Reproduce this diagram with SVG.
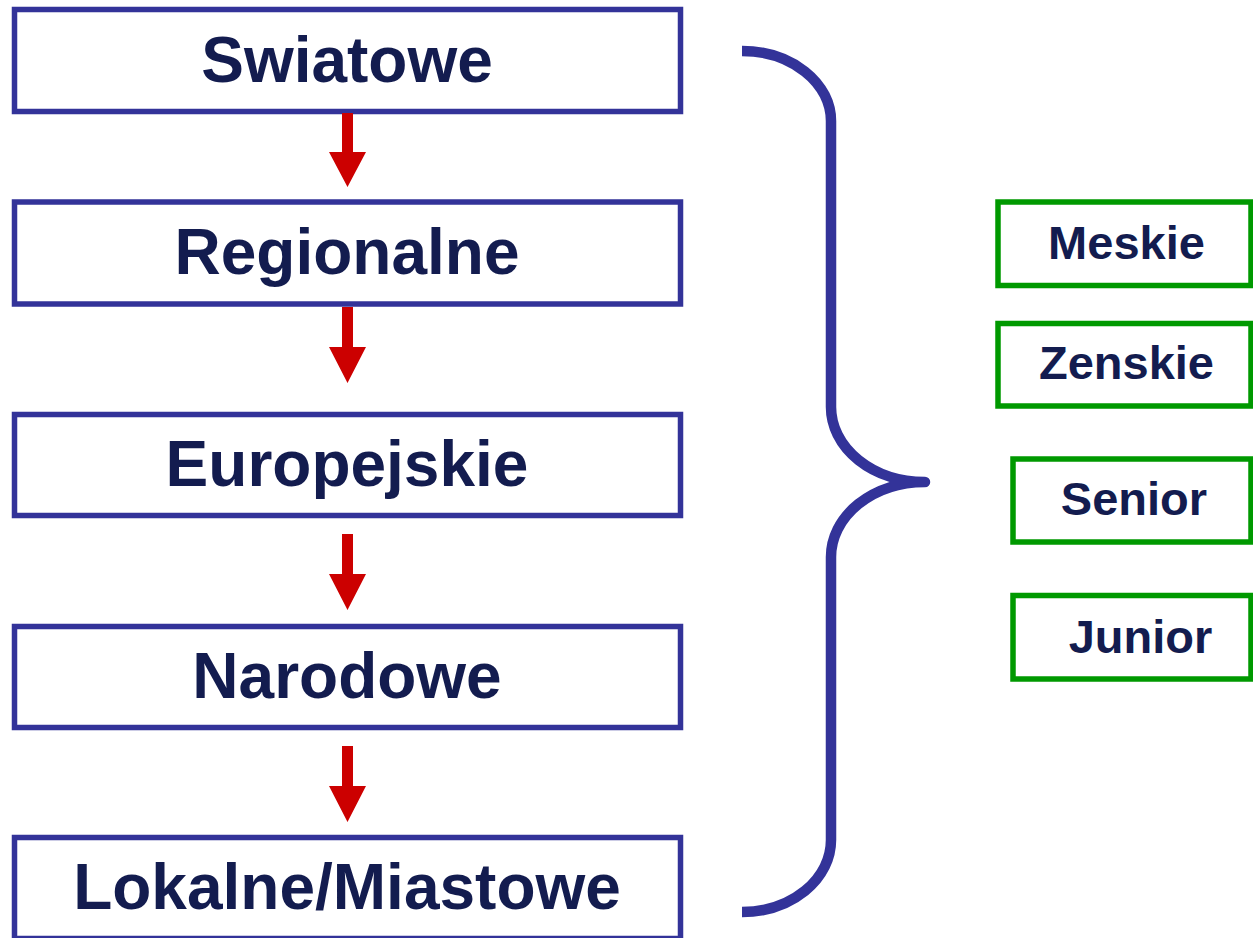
<svg xmlns="http://www.w3.org/2000/svg" width="1253" height="938" viewBox="0 0 1253 938">
<style>
.lv{fill:#fff;stroke:#333399;stroke-width:5.5}
.gv{fill:#fff;stroke:#009900;stroke-width:5.5}
.t{font-family:"Liberation Sans",Arial,sans-serif;font-weight:bold;fill:#131C4F;text-anchor:middle}
.big{font-size:64px}
.small{font-size:47px}
.arr{fill:#CC0000}
</style>
<rect width="1253" height="938" fill="#fff"/>
<g id="swiatowe"><rect class="lv" x="14.5" y="9.5" width="666" height="102"/><text class="t big" x="347" y="82">Swiatowe</text></g>
<g id="regionalne"><rect class="lv" x="14.5" y="202" width="666" height="102"/><text class="t big" x="347" y="274">Regionalne</text></g>
<g id="europejskie"><rect class="lv" x="14.5" y="414.5" width="666" height="101"/><text class="t big" x="347" y="486">Europejskie</text></g>
<g id="narodowe"><rect class="lv" x="14.5" y="626.5" width="666" height="101"/><text class="t big" x="347" y="698">Narodowe</text></g>
<g id="lokalne"><rect class="lv" x="14.5" y="837.5" width="666" height="101"/><text class="t big" x="347" y="909">Lokalne/Miastowe</text></g>
<g id="meskie"><rect class="gv" x="998" y="202" width="253" height="83.5"/><text class="t small" x="1126.5" y="259">Meskie</text></g>
<g id="zenskie"><rect class="gv" x="998" y="323.5" width="253" height="82.5"/><text class="t small" x="1126.5" y="379">Zenskie</text></g>
<g id="senior"><rect class="gv" x="1013" y="459" width="238" height="83"/><text class="t small" x="1134" y="515">Senior</text></g>
<g id="junior"><rect class="gv" x="1013" y="595.5" width="238" height="83.5"/><text class="t small" x="1140.5" y="653">Junior</text></g>
<g id="connectors">
<polygon class="arr" points="342,113 353,113 353,152 366,152 347.5,187 329,152 342,152"/>
<polygon class="arr" points="342,307 353,307 353,347 366,347 347.5,383 329,347 342,347"/>
<polygon class="arr" points="342,534 353,534 353,574 366,574 347.5,610 329,574 342,574"/>
<polygon class="arr" points="342,746 353,746 353,786 366,786 347.5,822 329,786 342,786"/>
<path d="M742,51 A89,70 0 0 1 831,121 L831,407 A94,75 0 0 0 925,482 A94,75 0 0 0 831,557 L831,840 A89,72 0 0 1 742,912" fill="none" stroke="#333399" stroke-width="10.5" stroke-linejoin="round" stroke-linecap="butt"/>
</g>
</svg>
